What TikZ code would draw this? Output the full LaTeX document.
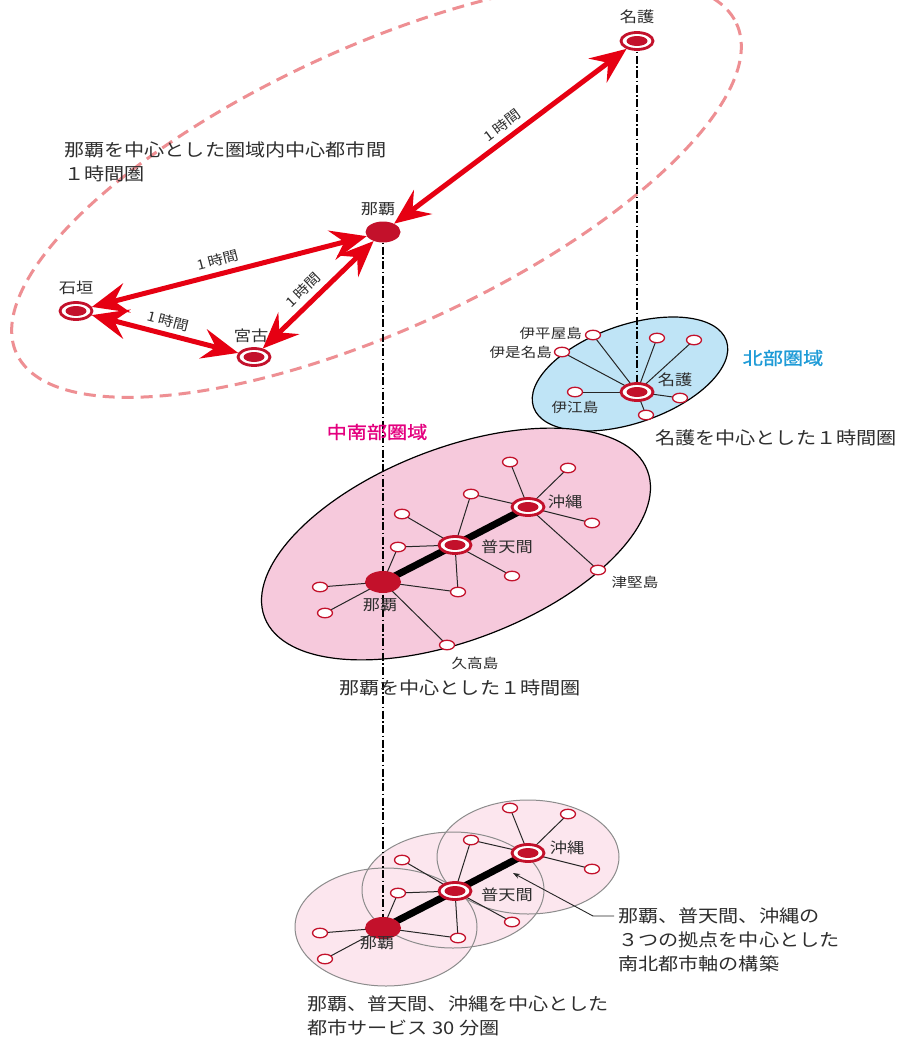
\documentclass[tikz,border=0pt]{standalone}
\usepackage{fontspec}
\setmainfont{Noto Sans CJK JP}[FakeStretch=1.15]
\newfontfamily\regionfont{Noto Sans CJK JP}[FakeStretch=1.15,FakeBold=1.2]
\usetikzlibrary{shapes.geometric, arrows.meta}
\pgfdeclarelayer{bg}\pgfdeclarelayer{mid}\pgfsetlayers{bg,mid,main}
\definecolor{arrowred}{HTML}{E60012}
\definecolor{nodered}{HTML}{C3112B}
\definecolor{dashpink}{HTML}{EE8F93}
\definecolor{bluefill}{HTML}{BFE4F6}
\definecolor{bluetext}{HTML}{1E9BD7}
\definecolor{pinkfill}{HTML}{F6C9DC}
\definecolor{magtext}{HTML}{E4007F}
\definecolor{lightpink}{HTML}{FCE6EE}
\definecolor{txt}{HTML}{2E2E2E}
\definecolor{circgray}{HTML}{8C8C8C}
\tikzset{
 ringnode/.style={ellipse, draw=nodered, line width=2.8pt, fill=white, minimum width=32pt, minimum height=17pt, inner sep=0pt,
   path picture={\fill[nodered] (path picture bounding box.center) ellipse [x radius=10.5pt, y radius=5pt];}},
 hubnode/.style={ellipse, fill=nodered, minimum width=36pt, minimum height=22pt, inner sep=0pt},
 satnode/.style={ellipse, draw=nodered, line width=1.3pt, fill=white, minimum width=15pt, minimum height=9.5pt, inner sep=0pt},
 linkline/.style={draw=black!85, line width=1pt},
 spineline/.style={draw=black, line width=7pt},
 redarrow/.style={draw=arrowred, line width=5pt, {Stealth[length=36pt,width=30pt,inset=13pt]}-{Stealth[length=36pt,width=30pt,inset=13pt]}},
 dashdotline/.style={draw=black, line width=1.1pt, dash pattern=on 8pt off 2.5pt on 1.5pt off 2.5pt},
 lbl/.style={font=\fontsize{15}{17}\selectfont, text=txt, inner sep=1pt},
 slbl/.style={font=\fontsize{13.5}{15}\selectfont, text=txt, inner sep=1pt},
 tlbl/.style={font=\fontsize{13.5}{15}\selectfont, text=txt, sloped, above=4pt, inner sep=1pt},
 bigtxt/.style={font=\fontsize{17.5}{24}\selectfont, text=txt, align=left, inner sep=0pt},
 regionlbl/.style={font=\regionfont\fontsize{17.5}{20}\selectfont, inner sep=0pt}
}
\newcommand\hourtext{1\kern3pt時間}
\newcommand\cityweb[1]{%
 \node[hubnode] (#1na) at (383,582) {};
 \node[ringnode] (#1fu) at (455,545) {};
 \node[ringnode] (#1ok) at (528,507) {};
 \foreach \n/\x/\y in {1/320/587, 2/325/613, 3/398/547, 4/458/592, 6/402/514, 7/471/494, 8/512/576, 9/510/462, 10/568/468, 11/592/523}
   {\node[satnode] (#1s\n) at (\x,\y) {};}
 \begin{pgfonlayer}{mid}
  \draw[spineline] (#1na.center) -- (#1fu.center);
  \draw[spineline] (#1fu.center) -- (#1ok.center);
  \foreach \a/\b in {na/s1, na/s2, na/s3, na/s4, fu/s3, fu/s4, fu/s6, fu/s7, fu/s8, ok/s7, ok/s9, ok/s10, ok/s11}
    {\draw[linkline] (#1\a.center) -- (#1\b.center);}
 \end{pgfonlayer}
}
\begin{document}
\begin{tikzpicture}[x=1pt, y=-1pt]
\useasboundingbox (0,0) rectangle (902,1039);
\begin{pgfonlayer}{bg}
 \fill[white] (0,0) rectangle (902,1039);
 % big dashed ellipse
 \draw[dashpink, line width=3pt, dash pattern=on 12pt off 7pt, rotate around={24.6:(376.5,188.5)}] (376.5,188.5) ellipse [x radius=396, y radius=141];
 % north region
 \draw[black, line width=1.2pt, fill=bluefill, rotate around={19:(630,374)}] (630,374) ellipse [x radius=102, y radius=49];
 % central-south region
 \draw[black, line width=1.2pt, fill=pinkfill, rotate around={21:(456,544)}] (456,544) ellipse [x radius=205, y radius=96];
 % 30 minute circles
 \fill[lightpink] (386,927) ellipse [x radius=91, y radius=59];
 \fill[lightpink] (453,890) ellipse [x radius=91, y radius=58];
 \fill[lightpink] (528,857) ellipse [x radius=91, y radius=57];
 \draw[circgray, line width=1pt] (386,927) ellipse [x radius=91, y radius=59];
 \draw[circgray, line width=1pt] (453,890) ellipse [x radius=91, y radius=58];
 \draw[circgray, line width=1pt] (528,857) ellipse [x radius=91, y radius=57];
\end{pgfonlayer}

% ---- top level: inter-city ----
\node[ringnode] (tnago) at (637,41) {};
\node[hubnode, minimum width=35pt, minimum height=21pt] (tna) at (383,232) {};
\node[ringnode] (ishi) at (76,311) {};
\node[ringnode] (miya) at (254,357) {};
\node[lbl] (tnagoL) at (637,17) {名護};
\node[lbl] (tnaL) at (378,209) {那覇};
\node[lbl] (ishiL) at (76,288) {石垣};
\node[lbl] (miyaL) at (251,336) {宮古};

\draw[redarrow] (tna) -- node[tlbl, pos=0.5] {\hourtext} (tnago);
\draw[redarrow] (ishi) -- node[tlbl, pos=0.47] {\hourtext} (tna);
\draw[redarrow] (miya) -- node[tlbl, pos=0.45] {\hourtext} (tna);
\draw[redarrow] (ishi) -- node[tlbl, pos=0.5] {\hourtext} (miya);

\node[bigtxt, anchor=west] (t1) at (64,162) {那覇を中心とした圏域内中心都市間\\１時間圏};

% ---- north region ----
\node[ringnode] (nago) at (637,392) {};
\foreach \n/\x/\y in {1/593/335, 2/562/352, 3/657/338, 4/694/340, 5/575/392, 6/680/398, 7/646/415}
  {\node[satnode] (q\n) at (\x,\y) {};}
\begin{pgfonlayer}{mid}
 \foreach \n in {1,...,7} {\draw[linkline] (nago.center) -- (q\n.center);}
 \draw[dashdotline] (tnago.center) -- (nago.center);
\end{pgfonlayer}
\node[lbl] (nagoL) at (675,380) {名護};
\node[slbl] (ieL) at (575,407) {伊江島};
\node[slbl, anchor=east] (iheyaL) at (583,333) {伊平屋島};
\node[slbl, anchor=east] (izenaL) at (553,352) {伊是名島};
\node[regionlbl, text=bluetext] (northL) at (783,358) {北部圏域};
\node[bigtxt, anchor=west] (t2) at (655,438) {名護を中心とした１時間圏};

% ---- central-south region ----
\cityweb{m}
\node[satnode] (ms5) at (447,645) {};
\node[satnode] (ms12) at (598,570) {};
\begin{pgfonlayer}{mid}
 \draw[linkline] (mna.center) -- (ms5.center);
 \draw[linkline] (mok.center) -- (ms12.center);
\end{pgfonlayer}
\node[lbl] (mnaL) at (380,605) {那覇};
\node[lbl] (mfuL) at (507,547) {普天間};
\node[lbl] (mokL) at (565,502) {沖縄};
\node[slbl] (tsukenL) at (635,582) {津堅島};
\node[slbl] (kudakaL) at (475,663) {久高島};
\node[regionlbl, text=magtext] (midL) at (377,432) {中南部圏域};
\node[bigtxt, anchor=west] (t3) at (339,688) {那覇を中心とした１時間圏};

% ---- 30 minute service ----
\begin{scope}[yshift=-346pt]
 \cityweb{b}
\end{scope}
\node[lbl] (bnaL) at (377,943) {那覇};
\node[lbl] (bfuL) at (507,895) {普天間};
\node[lbl] (bokL) at (567,848) {沖縄};
\begin{pgfonlayer}{mid}
 \draw[dashdotline] (tna.center) -- (bna.center);
\end{pgfonlayer}
\node[bigtxt, anchor=west] (t4) at (307,1016) {那覇、普天間、沖縄を中心とした\\都市サービス 30 分圏};
\node[bigtxt, anchor=west] (t5) at (618,940) {那覇、普天間、沖縄の\\３つの拠点を中心とした\\南北都市軸の構築};
\coordinate (lead0) at (614,916);
\coordinate (lead1) at (593,916);
\coordinate (leadtip) at (513,873);
\draw[black!85, line width=0.9pt, -{Stealth[length=7pt,width=5pt]}] (lead0) -- (lead1) -- (leadtip);
\end{tikzpicture}
\end{document}
